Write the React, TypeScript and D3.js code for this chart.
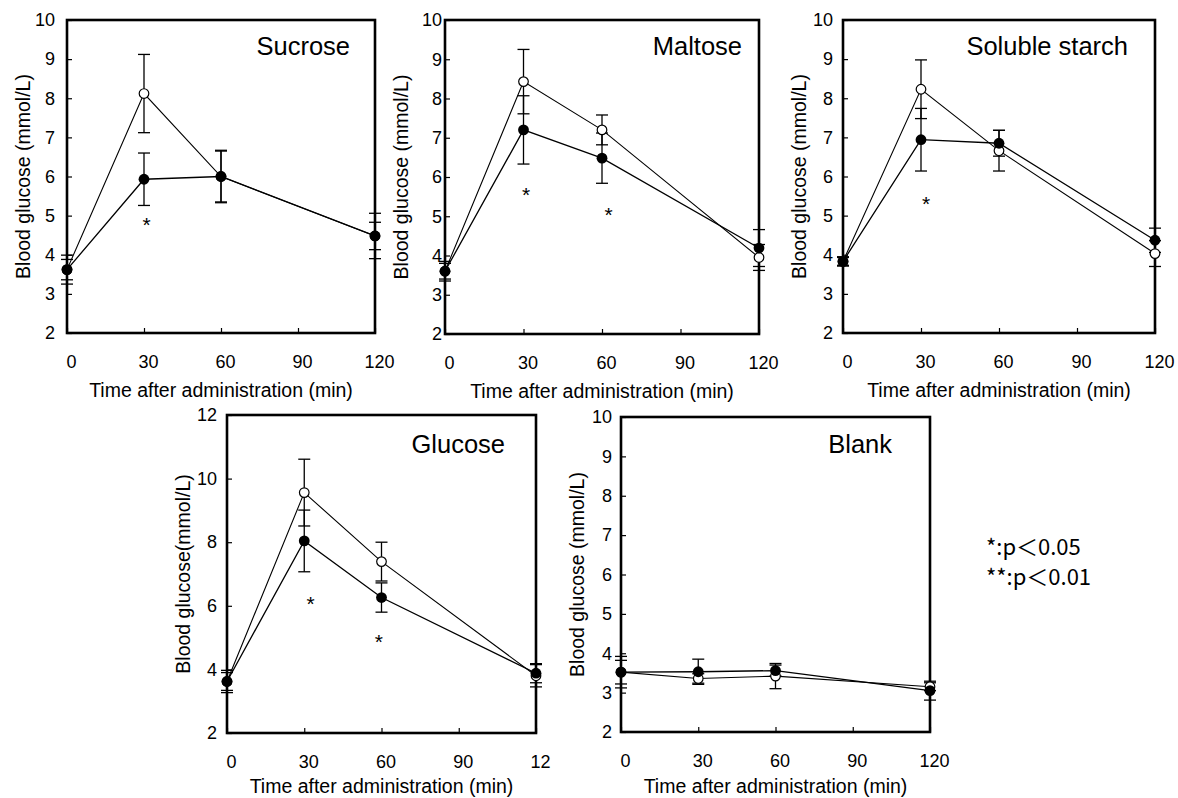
import React, { useRef, useEffect } from "react";
import * as d3 from "d3";

// sampling times (min)
const times = [0, 30, 60, 120];
const xTicks = [0, 30, 60, 90, 120];
const xTickLabels = ["0", "30", "60", "90", "120"];
const xTickLabelsGlucose = ["0", "30", "60", "90", "12"];
const yTicks10 = [2, 3, 4, 5, 6, 7, 8, 9, 10];
const yTicks12 = [2, 4, 6, 8, 10, 12];

// open circles / filled circles, means and SD
const sucroseOpen = [3.62, 8.12, 6.0, 4.48];
const sucroseOpenSd = [0.26, 1.0, 0.65, 0.35];
const sucroseFilled = [3.62, 5.93, 6.0, 4.48];
const sucroseFilledSd = [0.37, 0.67, 0.67, 0.58];
const sucroseStars = [[31, 4.89]];

const maltoseOpen = [3.6, 8.43, 7.2, 3.95];
const maltoseOpenSd = [0.2, 0.82, 0.38, 0.33];
const maltoseFilled = [3.6, 7.2, 6.48, 4.19];
const maltoseFilledSd = [0.25, 0.87, 0.64, 0.47];
const maltoseStars = [[31, 5.67], [62.5, 5.16]];

const starchOpen = [3.83, 8.23, 6.66, 4.03];
const starchOpenSd = [0.1, 0.75, 0.52, 0.33];
const starchFilled = [3.83, 6.94, 6.85, 4.37];
const starchFilledSd = [0.12, 0.8, 0.33, 0.31];
const starchStars = [[32, 5.42]];

const glucoseOpen = [3.62, 9.56, 7.39, 3.8];
const glucoseOpenSd = [0.28, 1.05, 0.61, 0.35];
const glucoseFilled = [3.62, 8.04, 6.26, 3.88];
const glucoseFilledSd = [0.35, 0.97, 0.46, 0.3];
const glucoseStars = [[32.5, 6.2], [59, 5.03]];

const blankOpen = [3.52, 3.36, 3.42, 3.15];
const blankOpenSd = [0.3, 0.12, 0.32, 0.1];
const blankFilled = [3.52, 3.53, 3.56, 3.05];
const blankFilledSd = [0.4, 0.32, 0.14, 0.24];
const blankStars = [];

const legendLines = ["*:p＜0.05", "**:p＜0.01"];

// layout of the five panels (frame box = [left, top, right, bottom])
const panels = [
    { title: "Sucrose", titlePos: [350, 55], box: [67, 20, 375, 333], yMax: 10, yTicks: yTicks10, xLabels: xTickLabels, xLabelDy: 64,
      yLabel: "Blood glucose (mmol/L)", gap: 12, open: sucroseOpen, openSd: sucroseOpenSd, filled: sucroseFilled, filledSd: sucroseFilledSd, stars: sucroseStars },
    { title: "Maltose", titlePos: [742, 55], box: [445, 20, 759, 334], yMax: 10, yTicks: yTicks10, xLabels: xTickLabels, xLabelDy: 64,
      yLabel: "Blood glucose (mmol/L)", gap: 3, open: maltoseOpen, openSd: maltoseOpenSd, filled: maltoseFilled, filledSd: maltoseFilledSd, stars: maltoseStars },
    { title: "Soluble starch", titlePos: [1128, 55], box: [843, 20, 1155, 333], yMax: 10, yTicks: yTicks10, xLabels: xTickLabels, xLabelDy: 64,
      yLabel: "Blood glucose (mmol/L)", gap: 10, open: starchOpen, openSd: starchOpenSd, filled: starchFilled, filledSd: starchFilledSd, stars: starchStars },
    { title: "Glucose", titlePos: [505, 453], box: [227, 415, 536, 733], yMax: 12, yTicks: yTicks12, xLabels: xTickLabelsGlucose, xLabelDy: 60,
      yLabel: "Blood glucose(mmol/L)", gap: 10, open: glucoseOpen, openSd: glucoseOpenSd, filled: glucoseFilled, filledSd: glucoseFilledSd, stars: glucoseStars },
    { title: "Blank", titlePos: [892, 453], box: [621, 417, 930, 732], yMax: 10, yTicks: yTicks10, xLabels: xTickLabels, xLabelDy: 61,
      yLabel: "Blood glucose (mmol/L)", gap: 9, open: blankOpen, openSd: blankOpenSd, filled: blankFilled, filledSd: blankFilledSd, stars: blankStars },
];

const font = "'Liberation Sans', Arial, sans-serif";
const tickFontSize = 18;
const labelFontSize = 19.5;
const titleFontSize = 25.5;

const App = () => {
    const ref = useRef(null);

    useEffect(() => {
        const svg = d3.select(ref.current);
        svg.selectAll("*").remove();

        panels.forEach(p => {
            const [x0, y0, x1, y1] = p.box;
            const xScale = d3.scaleLinear().domain([0, 120]).range([x0, x1]);
            const yScale = d3.scaleLinear().domain([2, p.yMax]).range([y1, y0]);
            const g = svg.append("g");

            // X axis, inward ticks
            const xAxis = g.append("g")
                .attr("transform", `translate(0,${y1})`)
                .call(d3.axisBottom(xScale).tickValues(xTicks).tickSize(-5).tickPadding(22)
                    .tickFormat((d, i) => p.xLabels[i]));
            xAxis.select(".domain").remove();
            xAxis.selectAll("line").attr("stroke-width", 1.2);
            xAxis.selectAll("text")
                .attr("dx", 4)
                .style("font-family", font)
                .style("font-size", tickFontSize + "px")
                .style("fill", "#000");

            // Y axis, inward ticks
            const yAxis = g.append("g")
                .attr("transform", `translate(${x0},0)`)
                .call(d3.axisLeft(yScale).tickValues(p.yTicks).tickSize(-5).tickPadding(p.gap));
            yAxis.select(".domain").remove();
            yAxis.selectAll("line").attr("stroke-width", 1.2);
            yAxis.selectAll("text")
                .style("font-family", font)
                .style("font-size", tickFontSize + "px")
                .style("fill", "#000");

            // frame
            g.append("rect")
                .attr("x", x0).attr("y", y0)
                .attr("width", x1 - x0).attr("height", y1 - y0)
                .attr("fill", "none")
                .attr("stroke", "#000")
                .attr("stroke-width", 2.6);

            // axis titles
            g.append("text")
                .attr("x", (x0 + x1) / 2)
                .attr("y", y1 + p.xLabelDy)
                .attr("text-anchor", "middle")
                .style("font-family", font)
                .style("font-size", labelFontSize + "px")
                .text("Time after administration (min)");

            g.append("text")
                .attr("transform", `translate(${x0 - 44},${(y0 + y1) / 2}) rotate(-90)`)
                .attr("text-anchor", "middle")
                .attr("dominant-baseline", "central")
                .style("font-family", font)
                .style("font-size", labelFontSize + "px")
                .text(p.yLabel);

            // panel title
            g.append("text")
                .attr("x", p.titlePos[0])
                .attr("y", p.titlePos[1])
                .attr("text-anchor", "end")
                .style("font-family", font)
                .style("font-size", titleFontSize + "px")
                .text(p.title);

            const line = d3.line()
                .x((d, i) => xScale(times[i]))
                .y(d => yScale(d));

            g.append("path").datum(p.open)
                .attr("d", line).attr("fill", "none")
                .attr("stroke", "#000").attr("stroke-width", 1.1);
            g.append("path").datum(p.filled)
                .attr("d", line).attr("fill", "none")
                .attr("stroke", "#000").attr("stroke-width", 1.3);

            // error bars
            const drawErr = (vals, sds) => {
                vals.forEach((v, i) => {
                    const cx = xScale(times[i]);
                    const top = yScale(v + sds[i]);
                    const bot = yScale(v - sds[i]);
                    g.append("line").attr("x1", cx).attr("x2", cx).attr("y1", top).attr("y2", bot)
                        .attr("stroke", "#000").attr("stroke-width", 1.3);
                    [top, bot].forEach(yy => {
                        g.append("line").attr("x1", cx - 6).attr("x2", cx + 6).attr("y1", yy).attr("y2", yy)
                            .attr("stroke", "#000").attr("stroke-width", 1.3);
                    });
                });
            };
            drawErr(p.open, p.openSd);
            drawErr(p.filled, p.filledSd);

            // markers: open first, filled on top
            g.selectAll(".open-pt").data(p.open).join("circle")
                .attr("class", "open-pt")
                .attr("cx", (d, i) => xScale(times[i]))
                .attr("cy", d => yScale(d))
                .attr("r", 4.8)
                .attr("fill", "#fff")
                .attr("stroke", "#000")
                .attr("stroke-width", 1.2);

            g.selectAll(".filled-pt").data(p.filled).join("circle")
                .attr("class", "filled-pt")
                .attr("cx", (d, i) => xScale(times[i]))
                .attr("cy", d => yScale(d))
                .attr("r", 5.4)
                .attr("fill", "#000");

            // significance marks
            g.selectAll(".star").data(p.stars).join("text")
                .attr("class", "star")
                .attr("x", d => xScale(d[0]))
                .attr("y", d => yScale(d[1]) + 12)
                .attr("text-anchor", "middle")
                .style("font-family", font)
                .style("font-size", "21px")
                .text("*");
        });

        // legend
        svg.selectAll(".legend").data(legendLines).join("text")
            .attr("class", "legend")
            .attr("x", 986)
            .attr("y", (d, i) => 555 + i * 30)
            .style("font-family", "'Noto Sans CJK JP', sans-serif")
            .style("font-size", "22px")
            .text(d => d);
    }, []);

    return (
        <div style={{ position: "absolute", left: 0, top: 0 }}>
            <svg ref={ref} width={1178} height={798} style={{ display: "block", background: "#fff" }}></svg>
        </div>
    );
};

export default App;
